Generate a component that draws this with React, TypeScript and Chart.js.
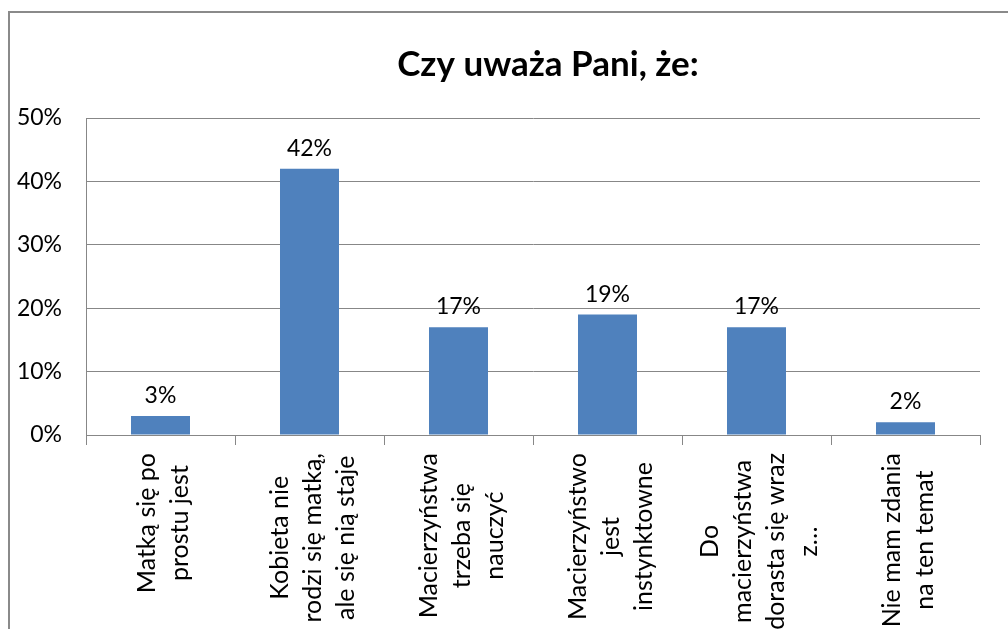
import React, { useEffect, useRef } from "react";
import { Chart, registerables } from "chart.js";

Chart.register(...registerables);

const TITLE = "Czy uważa Pani, że:";
const categories: string[][] = [
  ["Matką się po", "prostu jest"],
  ["Kobieta nie", "rodzi się matką,", "ale się nią staje"],
  ["Macierzyństwa", "trzeba się", "nauczyć"],
  ["Macierzyństwo", "jest", "instynktowne"],
  ["Do", "macierzyństwa", "dorasta się wraz", "z…"],
  ["Nie mam zdania", "na ten temat"],
];
const values: number[] = [3, 42, 17, 19, 17, 2];
const yTicks: number[] = [0, 10, 20, 30, 40, 50];

const FONT = "Lato, 'Open Sans', sans-serif";
const GRAY = "#878787";

const framePlugin = {
  id: "frame",
  beforeDraw(chart: any) {
    const ctx = chart.ctx;
    ctx.save();
    ctx.fillStyle = "#ffffff";
    ctx.fillRect(0, 0, chart.width, chart.height);
    ctx.strokeStyle = "#8a8a8a";
    ctx.lineWidth = 2;
    ctx.beginPath();
    ctx.moveTo(9, chart.height + 2);
    ctx.lineTo(9, 12);
    ctx.lineTo(chart.width + 2, 12);
    ctx.stroke();
    ctx.restore();
  },
};

const labelsPlugin = {
  id: "customLabels",
  afterDatasetsDraw(chart: any) {
    const ctx = chart.ctx;
    ctx.save();
    // title
    ctx.fillStyle = "#000000";
    ctx.font = `bold 35px ${FONT}`;
    ctx.textAlign = "center";
    ctx.textBaseline = "alphabetic";
    ctx.fillText(TITLE, 548, 76);

    // data labels
    const meta = chart.getDatasetMeta(0);
    ctx.font = `23px ${FONT}`;
    ctx.textBaseline = "alphabetic";
    meta.data.forEach((el: any, i: number) => {
      ctx.fillText(values[i] + "%", el.x, el.y - 13);
    });

    // x category labels (rotated)
    const xs = chart.scales.x;
    ctx.font = `25px ${FONT}`;
    const top = xs.top + 18;
    const spacing = 33;
    categories.forEach((lines, i) => {
      const cx = xs.getPixelForValue(i) + 3;
      const maxW = Math.max(...lines.map((l) => ctx.measureText(l).width));
      ctx.save();
      ctx.translate(cx, top);
      ctx.rotate(-Math.PI / 2);
      ctx.textAlign = "center";
      ctx.textBaseline = "middle";
      lines.forEach((line, k) => {
        const v = (k - (lines.length - 1) / 2) * spacing;
        ctx.fillText(line, -maxW / 2, v);
      });
      ctx.restore();
    });
    ctx.restore();
  },
};

export default function App() {
  const ref = useRef<HTMLCanvasElement | null>(null);
  useEffect(() => {
    document.body.style.margin = "0";
    if (!ref.current) return;
    const chart = new Chart(ref.current, {
      type: "bar",
      data: {
        labels: categories.map((c) => c.join(" ")),
        datasets: [
          {
            data: values,
            backgroundColor: "#4F81BD",
            borderWidth: 0,
            categoryPercentage: 1,
            barPercentage: 0.396,
          },
        ],
      },
      options: {
        animation: false,
        responsive: false,
        maintainAspectRatio: false,
        layout: { padding: { left: 0, right: 28, top: 118, bottom: 0 } },
        plugins: {
          legend: { display: false },
          title: { display: false },
          tooltip: { enabled: false },
        },
        scales: {
          x: {
            offset: true,
            grid: {
              offset: true,
              drawOnChartArea: false,
              drawTicks: true,
              tickLength: 10,
              color: GRAY,
            },
            border: { display: true, color: GRAY, width: 1 },
            ticks: { display: false },
            afterFit: (scale: any) => {
              scale.height = 194;
            },
          },
          y: {
            min: 0,
            max: 50,
            afterBuildTicks: (scale: any) => {
              scale.ticks = yTicks.map((v) => ({ value: v }));
            },
            grid: { color: GRAY, drawTicks: false },
            border: { display: true, color: GRAY, width: 1 },
            ticks: {
              padding: 24,
              color: "#000000",
              font: { family: FONT, size: 23 },
              callback: (v: any) => v + "%",
            },
            afterFit: (scale: any) => {
              scale.width = 86;
            },
          },
        },
      },
      plugins: [framePlugin, labelsPlugin],
    });
    return () => chart.destroy();
  }, []);
  return <canvas ref={ref} width={1008} height={629} style={{ display: "block" }} />;
}
